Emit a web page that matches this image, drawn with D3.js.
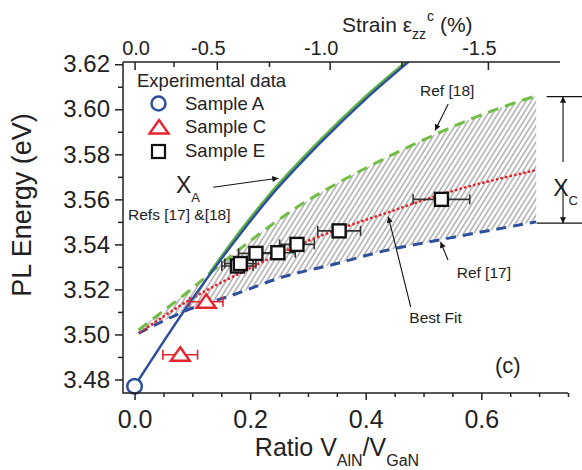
<!DOCTYPE html>
<html lang="en">
<head>
<meta charset="UTF-8">
<title>PL Energy vs ratio</title>
<style>
    body { margin: 0; background: #fff; }
    svg { display: block; font-family: "Liberation Sans", Arial, sans-serif; }
</style>
</head>
<body>
<script src="https://cdn.jsdelivr.net/npm/d3@7"></script>
<script type="text/javascript">
    // experimental points (ratio, PL energy, x error)
    var sampleAx = [0.0];
    var sampleAy = [3.477];
    var sampleCx = [0.079, 0.124];
    var sampleCy = [3.491, 3.5145];
    var sampleCerr = [0.03, 0.029];
    var sampleEx = [0.178, 0.183, 0.210, 0.248, 0.281, 0.354, 0.531];
    var sampleEy = [3.5304, 3.5315, 3.536, 3.5363, 3.540, 3.546, 3.560];
    var sampleEerr = [0.027, 0.027, 0.03, 0.03, 0.03, 0.037, 0.049];

    // model curves
    var fitAx = [0, 0.096, 0.188, 0.234, 0.321, 0.398, 0.49];
    var fitAy = [3.477, 3.5143, 3.5463, 3.561, 3.585, 3.6041, 3.6245];
    var fitA18x = [0.13, 0.188, 0.234, 0.321, 0.398, 0.488];
    var fitA18y = [3.5266, 3.547, 3.5617, 3.5857, 3.6048, 3.6245];
    var ref18x = [0.007, 0.05, 0.1, 0.139, 0.2, 0.275, 0.35, 0.424, 0.522, 0.6, 0.695];
    var ref18y = [3.502, 3.5105, 3.5205, 3.529, 3.5415, 3.5555, 3.567, 3.577, 3.589, 3.5975, 3.606];
    var ref17x = [0.007, 0.05, 0.093, 0.17, 0.256, 0.35, 0.43, 0.528, 0.695];
    var ref17y = [3.5005, 3.506, 3.511, 3.5175, 3.5255, 3.5315, 3.537, 3.542, 3.550];
    var bestx = [0.01, 0.093, 0.2, 0.3, 0.436, 0.528, 0.695];
    var besty = [3.501, 3.515, 3.5295, 3.5415, 3.554, 3.562, 3.573];

    // axis ticks
    var yMajor = [3.48, 3.50, 3.52, 3.54, 3.56, 3.58, 3.60, 3.62];
    var yMinor = [3.49, 3.51, 3.53, 3.55, 3.57, 3.59, 3.61];
    var xMajor = [0, 0.2, 0.4, 0.6];
    var xMinor = [0.05, 0.1, 0.15, 0.25, 0.3, 0.35, 0.45, 0.5, 0.55, 0.65, 0.7, 0.75];
    // strain axis is not linear in ratio: tick positions
    var strainLabels = ["0.0", "-0.5", "-1.0", "-1.5"];
    var strainMajorPos = [0, 0.1423, 0.3376, 0.6114];
    var strainMinorPos = [0.0674, 0.2326, 0.4618];

    var w = 582, h = 470;
    var blue = "#2d4f9e", green = "#72bd45", red = "#e8242c", ink = "#222";

    var x = d3.scaleLinear().domain([-0.02, 0.75]).range([123, 568]);
    var y = d3.scaleLinear().domain([3.474, 3.621]).range([393, 62]);

    var svg = d3.select("body").append("svg").attr("width", w).attr("height", h);
    var defs = svg.append("defs");
    defs.append("clipPath").attr("id", "plot").append("rect")
        .attr("x", 123).attr("y", 62).attr("width", 445).attr("height", 331);
    var pat = defs.append("pattern").attr("id", "hatch")
        .attr("patternUnits", "userSpaceOnUse")
        .attr("width", 4.3).attr("height", 10)
        .attr("patternTransform", "rotate(32)");
    pat.append("line").attr("x1", 1).attr("x2", 1).attr("y1", 0).attr("y2", 10)
        .attr("stroke", "#adadad").attr("stroke-width", 1.5);
    defs.append("marker").attr("id", "arr")
        .attr("viewBox", "0 0 10 10").attr("refX", 10).attr("refY", 5)
        .attr("markerWidth", 9).attr("markerHeight", 6)
        .attr("markerUnits", "userSpaceOnUse").attr("orient", "auto-start-reverse")
        .append("path").attr("d", "M0,0L10,5L0,10Z").attr("fill", "#111");

    function pts(xs, ys) {
        return xs.map(function (d, i) { return [d, ys[i]]; });
    }
    var line = d3.line()
        .x(function (d) { return x(d[0]); })
        .y(function (d) { return y(d[1]); })
        .curve(d3.curveMonotoneX);

    var plot = svg.append("g").attr("clip-path", "url(#plot)");

    // hatched band between the two references
    var upper = line(pts(ref18x, ref18y));
    var lower = line(pts(ref17x, ref17y).reverse());
    plot.append("path")
        .attr("d", upper + "L" + lower.slice(1) + "Z")
        .attr("fill", "url(#hatch)");

    plot.append("path").attr("d", line(pts(ref17x, ref17y)))
        .attr("fill", "none").attr("stroke", blue).attr("stroke-width", 3)
        .attr("stroke-dasharray", "10,7");
    plot.append("path").attr("d", line(pts(ref18x, ref18y)))
        .attr("fill", "none").attr("stroke", green).attr("stroke-width", 3)
        .attr("stroke-dasharray", "11,7");
    plot.append("path").attr("d", line(pts(bestx, besty)))
        .attr("fill", "none").attr("stroke", red).attr("stroke-width", 2.8)
        .attr("stroke-linecap", "round").attr("stroke-dasharray", "0.1,4.6");
    plot.append("path").attr("d", line(pts(fitA18x, fitA18y)))
        .attr("fill", "none").attr("stroke", "#5fb346").attr("stroke-width", 2.6)
        .attr("transform", "translate(-1.2,0)");
    plot.append("path").attr("d", line(pts(fitAx, fitAy)))
        .attr("fill", "none").attr("stroke", blue).attr("stroke-width", 2.4);

    // error bars
    function errBars(xs, ys, es, col) {
        var g = svg.append("g").attr("stroke", col).attr("stroke-width", 1.6).attr("fill", "none");
        xs.forEach(function (d, i) {
            var yy = y(ys[i]);
            g.append("line").attr("x1", x(d - es[i])).attr("x2", x(d + es[i])).attr("y1", yy).attr("y2", yy);
            g.append("line").attr("x1", x(d - es[i])).attr("x2", x(d - es[i])).attr("y1", yy - 5).attr("y2", yy + 5);
            g.append("line").attr("x1", x(d + es[i])).attr("x2", x(d + es[i])).attr("y1", yy - 5).attr("y2", yy + 5);
        });
    }
    errBars(sampleCx, sampleCy, sampleCerr, red);
    errBars(sampleEx, sampleEy, sampleEerr, "#333");

    var triPath = "M0,-7.5L9.5,6L-9.5,6Z";
    svg.selectAll(".ptA").data(pts(sampleAx, sampleAy)).enter().append("circle")
        .attr("cx", function (d) { return x(d[0]); })
        .attr("cy", function (d) { return y(d[1]); })
        .attr("r", 7.3).attr("fill", "#fff").attr("stroke", blue).attr("stroke-width", 2.5);
    svg.selectAll(".ptC").data(pts(sampleCx, sampleCy)).enter().append("path")
        .attr("d", triPath)
        .attr("transform", function (d) { return "translate(" + x(d[0]) + "," + y(d[1]) + ")"; })
        .attr("fill", "#fff").attr("stroke", red).attr("stroke-width", 2.4);
    svg.selectAll(".ptE").data(pts(sampleEx, sampleEy)).enter().append("rect")
        .attr("x", function (d) { return x(d[0]) - 6.5; })
        .attr("y", function (d) { return y(d[1]) - 6.5; })
        .attr("width", 13).attr("height", 13)
        .attr("fill", "#fff").attr("stroke", "#111").attr("stroke-width", 2.4);

    // axes
    var axLeft = svg.append("g").attr("transform", "translate(123,0)")
        .call(d3.axisLeft(y).tickValues(yMajor).tickSize(8).tickPadding(5).tickFormat(d3.format(".2f")));
    svg.append("g").attr("transform", "translate(123,0)")
        .call(d3.axisLeft(y).tickValues(yMinor).tickSize(5).tickFormat(""));
    var axBottom = svg.append("g").attr("transform", "translate(0,393)")
        .call(d3.axisBottom(x).tickValues(xMajor).tickSize(7).tickPadding(10).tickFormat(d3.format(".1f")));
    svg.append("g").attr("transform", "translate(0,393)")
        .call(d3.axisBottom(x).tickValues(xMinor).tickSize(4).tickFormat(""));
    var axTop = svg.append("g").attr("transform", "translate(0,62)")
        .call(d3.axisTop(x).tickValues(strainMajorPos).tickSize(-8).tickPadding(7)
            .tickFormat(function (d, i) { return strainLabels[i]; }));
    svg.append("g").attr("transform", "translate(0,62)")
        .call(d3.axisTop(x).tickValues(strainMinorPos).tickSize(-5).tickFormat(""));

    svg.selectAll(".domain").remove();
    svg.selectAll(".tick line").attr("stroke", ink).attr("stroke-width", 1.5);
    axLeft.selectAll("text").attr("font-size", 24).attr("fill", ink).attr("font-family", null);
    axBottom.selectAll("text").attr("font-size", 25).attr("fill", ink).attr("font-family", null);
    axTop.selectAll("text").attr("font-size", 20).attr("fill", ink).attr("font-family", null)
        .attr("dx", function (d, i) { return i === 0 ? 1 : -9; });

    // axis lines
    svg.append("path").attr("d", "M123,62V393H568").attr("fill", "none").attr("stroke", ink).attr("stroke-width", 1.5);
    svg.append("path").attr("d", "M123,62H560").attr("fill", "none").attr("stroke", ink).attr("stroke-width", 1.5);

    // axis titles
    svg.append("text").attr("transform", "translate(31,205) rotate(-90)")
        .attr("text-anchor", "middle").attr("font-size", 27).attr("fill", ink)
        .text("PL Energy (eV)");
    var bt = svg.append("text").attr("x", 337).attr("y", 456).attr("text-anchor", "middle")
        .attr("font-size", 25).attr("fill", ink);
    bt.append("tspan").text("Ratio V");
    bt.append("tspan").attr("font-size", 16).attr("dy", 10).text("AlN");
    bt.append("tspan").attr("dy", -10).text("/V");
    bt.append("tspan").attr("font-size", 16).attr("dy", 10).text("GaN");
    var tt = svg.append("text").attr("x", 342).attr("y", 32).attr("font-size", 21).attr("fill", ink);
    tt.append("tspan").text("Strain \u03b5");
    tt.append("tspan").attr("font-size", 14).attr("dy", 7).text("zz");
    tt.append("tspan").attr("font-size", 14).attr("dy", -18).attr("dx", 1).text("c");
    tt.append("tspan").attr("dy", 11).text(" (%)");

    // legend
    var lg = svg.append("g").attr("fill", ink).attr("font-size", 18.5);
    lg.append("text").attr("x", 137).attr("y", 87).text("Experimental data");
    lg.append("circle").attr("cx", 158.5).attr("cy", 103.5).attr("r", 7)
        .attr("fill", "#fff").attr("stroke", blue).attr("stroke-width", 2.5);
    lg.append("path").attr("d", triPath).attr("transform", "translate(159,127.5)")
        .attr("fill", "#fff").attr("stroke", red).attr("stroke-width", 2.4);
    lg.append("rect").attr("x", 152).attr("y", 145).attr("width", 13).attr("height", 13)
        .attr("fill", "#fff").attr("stroke", "#111").attr("stroke-width", 2.2);
    lg.append("text").attr("x", 185).attr("y", 110).text("Sample A");
    lg.append("text").attr("x", 185).attr("y", 133).text("Sample C");
    lg.append("text").attr("x", 185).attr("y", 157).text("Sample E");

    // annotations, positions in data units
    function arrow(x0, y0, x1, y1) {
        svg.append("line").attr("x1", x(x0)).attr("y1", y(y0)).attr("x2", x(x1)).attr("y2", y(y1))
            .attr("stroke", "#111").attr("stroke-width", 1.1).attr("marker-end", "url(#arr)");
    }
    function label(t, xx, yy, size) {
        return svg.append("text").attr("x", x(xx)).attr("y", y(yy)).attr("font-size", size)
            .attr("fill", ink).text(t);
    }
    label("Ref [18]", 0.494, 3.6061, 15.5);
    arrow(0.5427, 3.6024, 0.5199, 3.5906);
    label("Ref [17]", 0.5574, 3.5251, 15.5);
    arrow(0.5424, 3.5331, 0.5294, 3.5411);
    label("Best Fit", 0.4754, 3.505, 15.5);
    arrow(0.4778, 3.5123, 0.4391, 3.5523);
    label("Refs [17] &[18]", -0.0113, 3.5508, 15.5);
    var xa = label("X", 0.0717, 3.5628, 23);
    xa.append("tspan").attr("font-size", 13).attr("dy", 9).text("A");
    arrow(0.1362, 3.5654, 0.2487, 3.5694);
    label("(c)", 0.6237, 3.4829, 22);

    // X_C bracket
    var xc = 0.7414;
    svg.append("line").attr("x1", x(0.7131)).attr("x2", w).attr("y1", y(3.6056)).attr("y2", y(3.6056))
        .attr("stroke", "#111").attr("stroke-width", 1.3);
    svg.append("line").attr("x1", x(0.6958)).attr("x2", w).attr("y1", y(3.5494)).attr("y2", y(3.5494))
        .attr("stroke", "#111").attr("stroke-width", 1.3);
    arrow(xc, 3.5766, xc, 3.6056);
    arrow(xc, 3.5667, xc, 3.5494);
    var xcl = label("X", 0.7245, 3.5613, 23);
    xcl.append("tspan").attr("font-size", 13).attr("dy", 9).text("C");
</script>
</body>
</html>
